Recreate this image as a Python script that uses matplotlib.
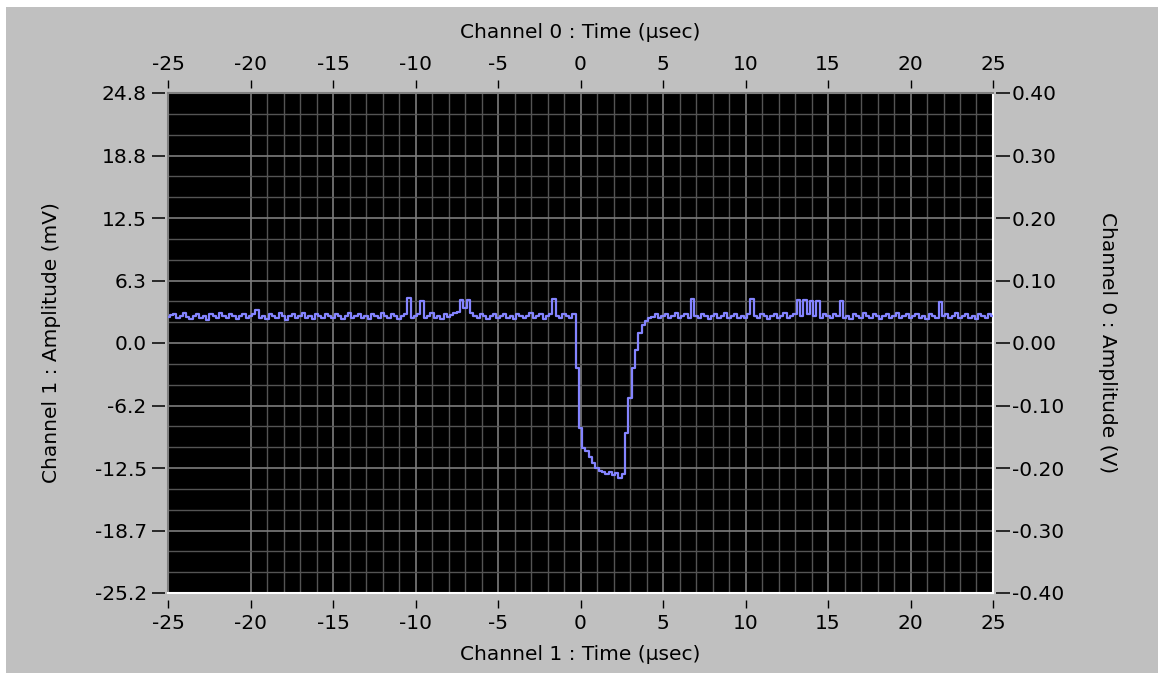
import numpy as np
import matplotlib
matplotlib.use("Agg")
import matplotlib.pyplot as plt
from matplotlib.patches import Rectangle
from matplotlib.ticker import FixedLocator

# ---- data ----
# time axis (usec), same for both channels
x_ticks = [-25, -20, -15, -10, -5, 0, 5, 10, 15, 20, 25]
x_labels = ["-25", "-20", "-15", "-10", "-5", "0", "5", "10", "15", "20", "25"]

# left axis: channel 1 amplitude (mV)
y_ticks = [25, 18.75, 12.5, 6.25, 0, -6.25, -12.5, -18.75, -25]
y_labels = ["24.8", "18.8", "12.5", "6.3", "0.0", "-6.2", "-12.5", "-18.7", "-25.2"]

# right axis: channel 0 amplitude (V)
v_ticks = [0.4, 0.3, 0.2, 0.1, 0.0, -0.1, -0.2, -0.3, -0.4]
v_labels = ["0.40", "0.30", "0.20", "0.10", "0.00", "-0.10", "-0.20", "-0.30", "-0.40"]

# channel 1 trace, one sample every 0.2 usec starting at -25 usec
t_start = -25.0
t_step = 0.2
amp_mv = [
    2.6, 2.8, 2.9, 2.5, 2.7, 3.0, 2.6, 2.4, 2.7, 2.9, 2.5, 2.7, 2.3, 2.9, 2.7,
    2.5, 3.0, 2.7, 2.5, 2.9, 2.7, 2.4, 2.7, 2.9, 2.5,
    2.7, 2.9, 3.3, 2.5, 2.7, 2.4, 2.9, 2.7, 2.5, 3.0, 2.7, 2.3, 2.7, 2.9, 2.5,
    2.7, 3.0, 2.5, 2.7, 2.4, 2.9, 2.7, 2.5, 2.9, 2.7,
    2.5, 2.9, 2.7, 2.4, 2.7, 3.0, 2.5, 2.7, 2.9, 2.5, 2.7, 2.4, 2.9, 2.7, 2.5,
    3.0, 2.7, 2.5, 2.9, 2.7, 2.4, 2.7, 2.9, 4.5, 2.5,
    2.7, 2.9, 4.2, 2.5, 2.7, 3.0, 2.5, 2.7, 2.4, 2.9, 2.6, 2.8, 3.0, 3.1, 4.3,
    3.5, 4.3, 3.0, 2.7, 2.5, 2.9, 2.7, 2.4, 2.7, 2.9,
    2.5, 2.7, 2.9, 2.5, 2.7, 2.4, 2.9, 2.7, 2.5, 2.7, 3.0, 2.5, 2.7, 2.9, 2.4,
    2.7, 2.9, 4.4, 2.7, 2.5, 2.9, 2.7, 2.5, 2.9, -2.5,
    -8.5, -10.5, -10.8, -11.4, -12.0, -12.5, -12.8, -12.9, -13.1, -12.9,
    -13.2, -13.0, -13.5, -13.1, -9.0, -5.5, -2.5, -0.7, 1.0, 1.8,
    2.2, 2.5, 2.6, 2.9, 2.5,
    2.7, 2.9, 2.5, 2.7, 3.0, 2.5, 2.7, 2.9, 2.5, 4.4, 2.7, 2.5, 2.9, 2.7, 2.4,
    2.7, 2.9, 2.5, 2.7, 3.0, 2.5, 2.7, 2.9, 2.5, 2.7,
    2.5, 2.9, 4.4, 2.7, 2.5, 2.9, 2.7, 2.4, 2.7, 2.9, 2.5, 2.7, 3.0, 2.5, 2.7,
    2.9, 4.3, 2.7, 4.3, 2.9, 4.2, 2.7, 4.2, 2.5, 2.9,
    2.7, 2.5, 2.9, 2.7, 4.2, 2.5, 2.7, 2.4, 2.9, 2.7, 2.5, 3.0, 2.7, 2.5, 2.9,
    2.7, 2.4, 2.7, 2.9, 2.5, 2.7, 3.0, 2.5, 2.7, 2.9,
    2.5, 2.7, 2.9, 2.5, 2.7, 2.4, 2.9, 2.7, 2.5, 4.1, 2.7, 2.9, 2.5, 2.7, 3.0,
    2.5, 2.7, 2.9, 2.5, 2.7, 2.4, 2.9, 2.7, 2.5, 2.9,
    2.7,
]

# ---- styling ----
W, H = 1158, 673
PANEL = "#c0c0c0"
TRACE = "#8484ff"
FS = 14.5

t_us = t_start + t_step * np.arange(len(amp_mv))

fig = plt.figure(figsize=(W / 100, H / 100), dpi=100, facecolor="white")
# grey panel (thin white strip on the top and left edge)
fig.patches.append(Rectangle((6 / W, 0), 1 - 6 / W, 1 - 7 / H,
                             transform=fig.transFigure, facecolor=PANEL,
                             edgecolor="none", zorder=-10))

rect = [168 / W, (H - 593) / H, 825 / W, 500 / H]

# data axes: black screen, grid and trace
ax = fig.add_axes(rect, facecolor="black")
ax.set_xlim(-25, 25)
ax.set_ylim(-25, 25)
ax.set_xticks(x_ticks)
ax.xaxis.set_minor_locator(FixedLocator(list(range(-19, 25))))  # no fine grid left of -20
ax.set_yticks(y_ticks)
ax.yaxis.set_minor_locator(FixedLocator(list(np.linspace(-25, 25, 25))))
ax.tick_params(which="both", length=0, labelbottom=False, labelleft=False)
ax.grid(which="major", color="#7c7c7c", lw=1.2)
ax.grid(which="minor", color="#545454", lw=1.0)
ax.plot(t_us, amp_mv, color=TRACE, lw=1.6, drawstyle="steps-mid", zorder=3)

# sunken frame: dark left/top, white right/bottom
for side, col in [("left", "#808080"), ("top", "#808080"),
                  ("right", "white"), ("bottom", "white")]:
    ax.spines[side].set_color(col)
    ax.spines[side].set_linewidth(1.5)

# tick axes (left, bottom, top), drawn slightly away from the frame
axt = fig.add_axes(rect, facecolor="none")
axt.set_xlim(-25, 25)
axt.set_ylim(-25, 25)
for s in axt.spines.values():
    s.set_color("none")
axt.spines["bottom"].set_position(("outward", 5))
axt.spines["top"].set_position(("outward", 3.6))
axt.spines["left"].set_position(("outward", 2.2))
axt.set_xticks(x_ticks)
axt.set_xticklabels(x_labels)
axt.set_yticks(y_ticks)
axt.set_yticklabels(y_labels)
axt.xaxis.set_ticks_position("both")
axt.tick_params(axis="x", direction="out", length=5.5, width=1.0, pad=4.5,
                labelsize=FS, labeltop=True, colors="black")
axt.tick_params(axis="y", direction="out", length=9.5, width=1.1, pad=3.6,
                labelsize=FS, colors="black")

# right axis: channel 0 in volts
axr = axt.twinx()
axr.set_ylim(-0.4, 0.4)
for s in axr.spines.values():
    s.set_color("none")
axr.spines["right"].set_position(("outward", 2.2))
axr.set_yticks(v_ticks)
axr.set_yticklabels(v_labels)
axr.tick_params(axis="y", direction="out", length=10, width=1.1, pad=1.4,
                labelsize=FS, colors="black")

# axis titles
fig.text(580 / W, 1 - 32 / H, "Channel 0 : Time (µsec)", ha="center", va="center", fontsize=FS)
fig.text(580 / W, 1 - 655 / H, "Channel 1 : Time (µsec)", ha="center", va="center", fontsize=FS)
fig.text(52 / W, 1 - 343 / H, "Channel 1 : Amplitude (mV)", ha="center", va="center",
         rotation=90, fontsize=FS)
fig.text(1108 / W, 1 - 343 / H, "Channel 0 : Amplitude (V)", ha="center", va="center",
         rotation=-90, fontsize=FS)

fig.savefig("out.png", dpi=100, facecolor=fig.get_facecolor())
